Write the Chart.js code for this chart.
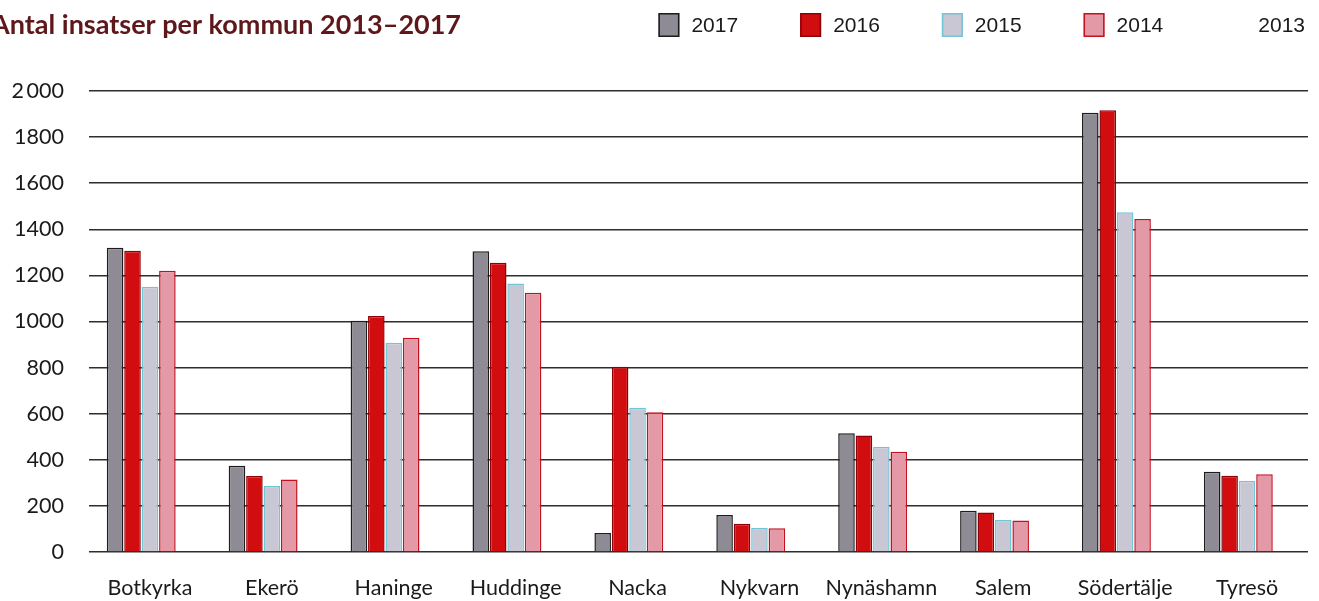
<!DOCTYPE html>
<html>
<head>
<meta charset="utf-8">
<script src="https://cdn.jsdelivr.net/npm/chart.js@4"></script>
<style>
  html, body { margin: 0; padding: 0; background: #fff; }
  #wrap { width: 1319px; height: 601px; }
</style>
</head>
<body>
<div id="wrap"><canvas id="myChart" width="1319" height="601"></canvas></div>
<script>
const TITLE = 'Antal insatser per kommun 2013\u20132017';

const kommuner = ['Botkyrka', 'Eker\u00f6', 'Haninge', 'Huddinge', 'Nacka', 'Nykvarn', 'Nyn\u00e4shamn', 'Salem', 'S\u00f6dert\u00e4lje', 'Tyres\u00f6'];

const years = ['2017', '2016', '2015', '2014', '2013'];

const v2017 = [1320, 374, 1003, 1305, 82, 160, 515, 179, 1906, 348];
const v2016 = [1307, 330, 1024, 1255, 804, 123, 505, 171, 1917, 331];
const v2015 = [1151, 286, 908, 1165, 626, 104, 457, 139, 1474, 309];
const v2014 = [1220, 315, 930, 1125, 606, 103, 435, 137, 1445, 337];
const v2013 = [null, null, null, null, null, null, null, null, null, null];

const yTicks = [0, 200, 400, 600, 800, 1000, 1200, 1400, 1600, 1800, 2000];

// title + legend drawn on one row, like the original
const headerPlugin = {
    id: 'header',
    afterDraw(chart) {
        const ctx = chart.ctx;
        ctx.save();
        ctx.font = 'bold 27px Lato';
        ctx.fillStyle = '#5e171b';
        ctx.textBaseline = 'alphabetic';
        ctx.textAlign = 'left';
        ctx.fillText(TITLE, -9, 34);

        ctx.font = '21px "Liberation Sans"';
        ctx.textBaseline = 'middle';
        const boxW = 21, boxH = 24, gapBox = 12, gapItem = 62;
        const items = chart.data.datasets.map(ds => ({
            ds: ds,
            w: boxW + gapBox + ctx.measureText(ds.label).width
        }));
        let total = items.reduce((s, it) => s + it.w, 0) + gapItem * (items.length - 1);
        let x = chart.width - 14 - total;
        items.forEach(it => {
            const ds = it.ds;
            ctx.fillStyle = ds.backgroundColor;
            ctx.fillRect(x, 13, boxW, boxH);
            ctx.lineWidth = 1.5;
            ctx.strokeStyle = ds.borderColor;
            ctx.strokeRect(x + 0.75, 13.75, boxW - 1.5, boxH - 1.5);
            ctx.fillStyle = '#1a1a1a';
            ctx.fillText(ds.label, x + boxW + gapBox, 26);
            x += it.w + gapItem;
        });
        ctx.restore();
    }
};

const barOpts = {
    borderWidth: 1.5,
    borderSkipped: 'bottom',
    barPercentage: 0.95,
    categoryPercentage: 0.715
};

const data = {
    labels: kommuner,
    datasets: [
        Object.assign({ label: years[0], data: v2017, backgroundColor: '#8f8b94', borderColor: '#1c1c1c' }, barOpts),
        Object.assign({ label: years[1], data: v2016, backgroundColor: '#d20d10', borderColor: '#8e0008' }, barOpts),
        Object.assign({ label: years[2], data: v2015, backgroundColor: '#cac7d4', borderColor: '#6fc6d6' }, barOpts),
        Object.assign({ label: years[3], data: v2014, backgroundColor: '#e49aa6', borderColor: '#c2121f' }, barOpts),
        Object.assign({ label: years[4], data: v2013, backgroundColor: 'rgba(255,255,255,0)', borderColor: 'rgba(255,255,255,0)' }, barOpts)
    ]
};

var myChart = new Chart(document.getElementById('myChart').getContext('2d'), {
    type: 'bar',
    data: data,
    plugins: [headerPlugin],
    options: {
        responsive: false,
        animation: false,
        devicePixelRatio: 1,
        layout: { padding: { top: 91, right: 11, bottom: 0, left: 0 } },
        plugins: {
            legend: { display: false },
            title: { display: false },
            tooltip: { enabled: false }
        },
        scales: {
            x: {
                grid: { display: false, drawTicks: false },
                border: { display: false },
                ticks: {
                    color: '#1a1a1a',
                    padding: 23,
                    maxRotation: 0,
                    autoSkip: false,
                    font: { family: 'Lato', size: 21.5 }
                },
                afterFit(scale) { scale.height = 49; }
            },
            y: {
                min: 0,
                max: 2000,
                afterBuildTicks(scale) { scale.ticks = yTicks.map(v => ({ value: v })); },
                grid: { color: '#2e2e2e', lineWidth: 1.5, drawTicks: false },
                border: { display: false },
                ticks: {
                    color: '#1a1a1a',
                    padding: 25,
                    font: { family: 'Lato', size: 21.5 },
                    callback: v => v === 2000 ? '2\u2009000' : String(v)
                },
                afterFit(scale) { scale.width = 89; }
            }
        }
    }
});
</script>
</body>
</html>
